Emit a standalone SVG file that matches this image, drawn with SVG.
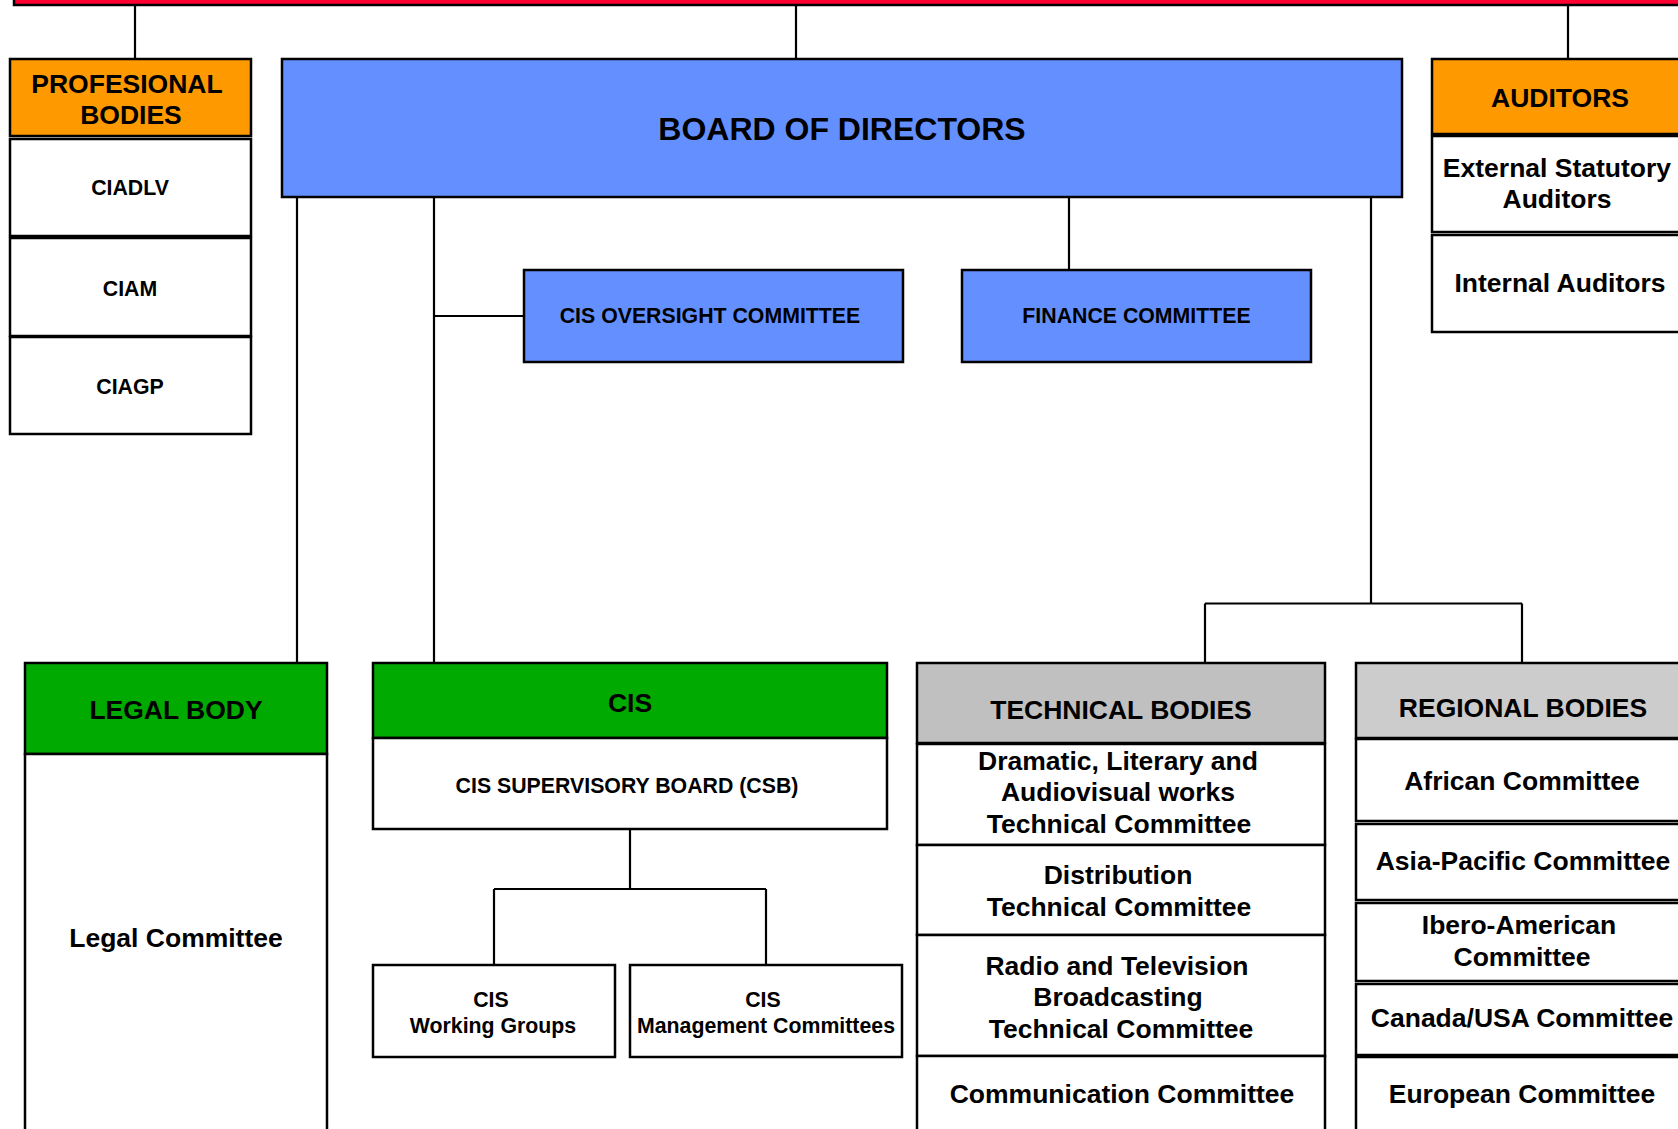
<svg xmlns="http://www.w3.org/2000/svg" width="1678" height="1129" viewBox="0 0 1678 1129">
<style>
.box{stroke:#000;stroke-width:2.5}
.w{fill:#fff}.o{fill:#FF9900}.b{fill:#6490FF}.g{fill:#00AA00}.t{fill:#C0C0C0}.r{fill:#CCCCCC}
.c line{stroke:#000;stroke-width:2.2}
text{font-family:"Liberation Sans",Arial,sans-serif;font-weight:bold;fill:#000;text-anchor:middle}
.f26{font-size:26.5px}.f21{font-size:21.3px}.f32{font-size:32px}
</style>
<rect x="0" y="0" width="1678" height="1129" fill="#fff"/>
<rect id="topbar" class="box" x="14" y="-20" width="1700" height="25" fill="#FF0033"/>
<g class="c" id="connectors">
<line x1="135" y1="5" x2="135" y2="59"/>
<line x1="796" y1="5" x2="796" y2="59"/>
<line x1="1568" y1="5" x2="1568" y2="59"/>
<line x1="297" y1="197" x2="297" y2="663"/>
<line x1="434" y1="197" x2="434" y2="663"/>
<line x1="434" y1="316" x2="524" y2="316"/>
<line x1="1069" y1="197" x2="1069" y2="270"/>
<line x1="1371" y1="197" x2="1371" y2="603.5"/>
<line x1="1205" y1="603.5" x2="1522" y2="603.5"/>
<line x1="1205" y1="603.5" x2="1205" y2="663"/>
<line x1="1522" y1="603.5" x2="1522" y2="663"/>
<line x1="630" y1="829" x2="630" y2="889"/>
<line x1="494" y1="889" x2="766" y2="889"/>
<line x1="494" y1="889" x2="494" y2="965"/>
<line x1="766" y1="889" x2="766" y2="965"/>
</g>
<g id="professional-bodies">
<rect class="box o" x="10" y="59" width="241" height="77"/>
<text class="f26" x="127" y="93">PROFESIONAL</text>
<text class="f26" x="131" y="124">BODIES</text>
<rect class="box w" x="10" y="139" width="241" height="97"/>
<text class="f21" x="130" y="195">CIADLV</text>
<rect class="box w" x="10" y="238" width="241" height="98"/>
<text class="f21" x="130" y="296">CIAM</text>
<rect class="box w" x="10" y="337" width="241" height="97"/>
<text class="f21" x="130" y="394">CIAGP</text>
</g>
<g id="board">
<rect class="box b" x="282" y="59" width="1120" height="138"/>
<text class="f32" x="842" y="140">BOARD OF DIRECTORS</text>
</g>
<g id="oversight">
<rect class="box b" x="524" y="270" width="379" height="92"/>
<text class="f21" x="710" y="323">CIS OVERSIGHT COMMITTEE</text>
</g>
<g id="finance">
<rect class="box b" x="962" y="270" width="349" height="92"/>
<text class="f21" x="1136.5" y="323">FINANCE COMMITTEE</text>
</g>
<g id="auditors">
<rect class="box o" x="1432" y="59" width="260" height="75"/>
<text class="f26" x="1560" y="107">AUDITORS</text>
<rect class="box w" x="1432" y="136" width="260" height="96"/>
<text class="f26" x="1557" y="177">External Statutory</text>
<text class="f26" x="1557" y="208">Auditors</text>
<rect class="box w" x="1432" y="235" width="260" height="97"/>
<text class="f26" x="1560" y="292">Internal Auditors</text>
</g>
<g id="legal-body">
<rect class="box g" x="25" y="663" width="302" height="91"/>
<text class="f26" x="176" y="719">LEGAL BODY</text>
<rect class="box w" x="25" y="754" width="302" height="420"/>
<text class="f26" x="176" y="947">Legal Committee</text>
</g>
<g id="cis">
<rect class="box g" x="373" y="663" width="514" height="75"/>
<text class="f26" x="630" y="712">CIS</text>
<rect class="box w" x="373" y="738" width="514" height="91"/>
<text class="f21" x="627" y="793">CIS SUPERVISORY BOARD (CSB)</text>
</g>
<g id="cis-working-groups">
<rect class="box w" x="373" y="965" width="242" height="92"/>
<text class="f21" x="491" y="1007">CIS</text>
<text class="f21" x="493" y="1033">Working Groups</text>
</g>
<g id="cis-management-committees">
<rect class="box w" x="630" y="965" width="272" height="92"/>
<text class="f21" x="763" y="1007">CIS</text>
<text class="f21" x="766" y="1033">Management Committees</text>
</g>
<g id="technical-bodies">
<rect class="box t" x="917" y="663" width="408" height="80"/>
<text class="f26" x="1121" y="719">TECHNICAL BODIES</text>
<rect class="box w" x="917" y="744" width="408" height="101"/>
<text class="f26" x="1118" y="770">Dramatic, Literary and</text>
<text class="f26" x="1118" y="801">Audiovisual works</text>
<text class="f26" x="1119" y="833">Technical Committee</text>
<rect class="box w" x="917" y="845" width="408" height="90"/>
<text class="f26" x="1118" y="884">Distribution</text>
<text class="f26" x="1119" y="916">Technical Committee</text>
<rect class="box w" x="917" y="935" width="408" height="121"/>
<text class="f26" x="1117" y="975">Radio and Television</text>
<text class="f26" x="1118" y="1006">Broadcasting</text>
<text class="f26" x="1121" y="1038">Technical Committee</text>
<rect class="box w" x="917" y="1056" width="408" height="120"/>
<text class="f26" x="1122" y="1103">Communication Committee</text>
</g>
<g id="regional-bodies">
<rect class="box r" x="1356" y="663" width="340" height="75"/>
<text class="f26" x="1523" y="717">REGIONAL BODIES</text>
<rect class="box w" x="1356" y="739" width="340" height="82"/>
<text class="f26" x="1522" y="790">African Committee</text>
<rect class="box w" x="1356" y="824" width="340" height="76"/>
<text class="f26" x="1523" y="870">Asia-Pacific Committee</text>
<rect class="box w" x="1356" y="903" width="340" height="78"/>
<text class="f26" x="1519" y="934">Ibero-American</text>
<text class="f26" x="1522" y="966">Committee</text>
<rect class="box w" x="1356" y="984" width="340" height="71"/>
<text class="f26" x="1522" y="1027">Canada/USA Committee</text>
<rect class="box w" x="1356" y="1057" width="340" height="120"/>
<text class="f26" x="1522" y="1103">European Committee</text>
</g>
</svg>
